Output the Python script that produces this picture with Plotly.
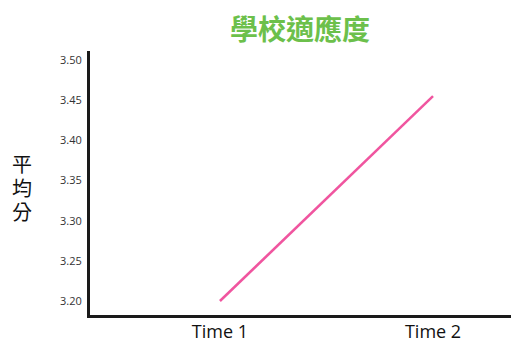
import plotly.graph_objects as go

categories = ["Time 1", "Time 2"]
values = [3.20, 3.455]
y_ticks = [3.20, 3.25, 3.30, 3.35, 3.40, 3.45, 3.50]
y_tick_labels = ["3.20", "3.25", "3.30", "3.35", "3.40", "3.45", "3.50"]
title_text = "學校適應度"
y_title_chars = ["平", "均", "分"]

fig = go.Figure()
fig.add_trace(go.Scatter(
    x=[0, 1], y=values, mode="lines",
    line=dict(color="#f0559f", width=2.5),
    hoverinfo="skip", showlegend=False,
))

plot_h = 343 - 51 - 28
annotations = []
for i, ch in enumerate(y_title_chars):
    py = 163 + 24 * i
    annotations.append(dict(
        text=ch, xref="paper", yref="paper",
        x=-68 / 421, y=(315 - py) / plot_h, xanchor="center", yanchor="middle",
        showarrow=False, align="center",
        font=dict(size=20, color="#111", family="Noto Sans CJK TC"),
    ))

fig.update_layout(
    width=511, height=343,
    margin=dict(l=90, r=0, t=51, b=28, autoexpand=False),
    paper_bgcolor="white", plot_bgcolor="white",
    font=dict(family="Noto Sans CJK TC, Noto Sans, sans-serif"),
    title=dict(
        text="<b>" + title_text + "</b>",
        x=300 / 511, xanchor="center", y=1 - 30 / 343, yanchor="middle",
        font=dict(size=28, color="#6cc04b", family="Noto Sans CJK TC"),
    ),
    xaxis=dict(
        range=[-0.61, 1.366],
        tickmode="array", tickvals=[0, 1], ticktext=categories,
        showgrid=False, zeroline=False, automargin=False,
        showline=True, linecolor="#1a1a1a", linewidth=3,
        ticks="", tickfont=dict(size=18, color="#111", family="Open Sans"),
        ticklabelstandoff=-2,
    ),
    yaxis=dict(
        range=[3.1826, 3.5112],
        tickmode="array", tickvals=y_ticks, ticktext=y_tick_labels,
        showgrid=False, zeroline=False, automargin=False,
        showline=True, linecolor="#1a1a1a", linewidth=3,
        ticks="", tickfont=dict(size=11, color="#333", family="Open Sans"),
        ticklabelstandoff=3,
    ),
    annotations=annotations,
)

fig.write_html("out.html")
